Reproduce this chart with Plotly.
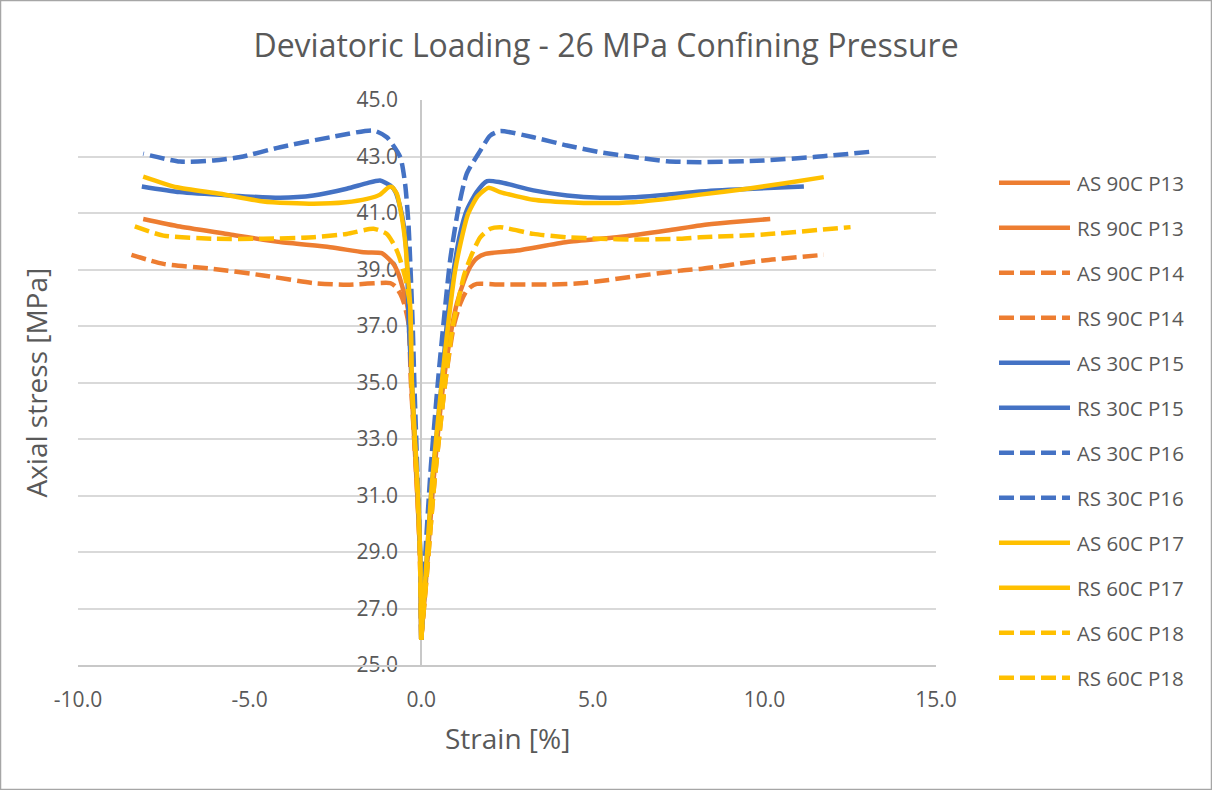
import plotly.graph_objects as go

# ---------------- data ----------------
series_names = ["AS 90C P13", "RS 90C P13", "AS 90C P14", "RS 90C P14",
                "AS 30C P15", "RS 30C P15", "AS 30C P16", "RS 30C P16",
                "AS 60C P17", "RS 60C P17", "AS 60C P18", "RS 60C P18"]

as_90c_p13_x = [0, 0.14, 0.35, 0.65, 0.9, 1.04, 1.25, 1.43, 1.62, 1.87, 2.79, 4.25, 5.7, 7.16, 8.13, 9.01, 10.17]
as_90c_p13_y = [25.9, 28.0, 31.4, 35.0, 37.0, 37.8, 38.6, 39.1, 39.4, 39.55, 39.67, 39.97, 40.14, 40.38, 40.56, 40.67, 40.79]

rs_90c_p13_x = [0, -0.04, -0.13, -0.29, -0.32, -0.42, -0.52, -0.65, -0.81, -1.15, -1.68, -2.65, -4.11, -5.57, -7.03, -8.1]
rs_90c_p13_y = [25.9, 29.0, 31.4, 35.0, 37.08, 37.8, 38.26, 38.8, 39.2, 39.58, 39.61, 39.79, 39.97, 40.24, 40.52, 40.79]

as_90c_p14_x = [0, 0.15, 0.38, 0.7, 0.95, 1.14, 1.3, 1.43, 1.62, 2.3, 3.76, 4.73, 6.19, 7.55, 8.13, 9.98, 11.73]
as_90c_p14_y = [25.9, 28.0, 31.4, 35.0, 37.0, 37.8, 38.2, 38.37, 38.49, 38.47, 38.47, 38.52, 38.75, 38.96, 39.02, 39.32, 39.52]

rs_90c_p14_x = [0, -0.04, -0.13, -0.3, -0.37, -0.5, -0.61, -0.75, -0.9, -2.17, -3.14, -4.6, -6.05, -7.51, -8.53]
rs_90c_p14_y = [25.9, 29.0, 31.4, 35.0, 37.08, 37.8, 38.14, 38.4, 38.52, 38.46, 38.52, 38.79, 39.02, 39.2, 39.55]

as_30c_p15_x = [0, 0.12, 0.31, 0.6, 0.75, 0.95, 1.14, 1.33, 1.62, 1.92, 2.3, 3.27, 4.25, 5.22, 6.19, 7.16, 8.13, 9.5, 11.15]
as_30c_p15_y = [25.9, 28.0, 31.4, 35.0, 37.1, 39.0, 40.3, 41.1, 41.75, 42.13, 42.09, 41.8, 41.62, 41.54, 41.56, 41.65, 41.76, 41.85, 41.94]

rs_30c_p15_x = [0, -0.03, -0.11, -0.27, -0.36, -0.42, -0.5, -0.61, -0.75, -0.9, -1.2, -1.6, -2.17, -3.14, -4.11, -5.57, -7.03, -8.14]
rs_30c_p15_y = [25.9, 29.0, 31.4, 35.0, 37.0, 39.44, 40.5, 41.2, 41.75, 41.97, 42.15, 42.05, 41.86, 41.62, 41.54, 41.62, 41.74, 41.94]

as_30c_p16_x = [0, 0.1, 0.28, 0.5, 0.65, 0.85, 1.09, 1.33, 1.72, 2.01, 2.3, 3.27, 4.25, 5.22, 6.19, 7.16, 8.13, 9.98, 11.44, 13.19]
as_30c_p16_y = [25.9, 28.5, 32.0, 35.2, 37.1, 39.4, 41.2, 42.4, 43.2, 43.74, 43.9, 43.68, 43.39, 43.15, 42.98, 42.83, 42.8, 42.86, 42.98, 43.18]

rs_30c_p16_x = [0, -0.03, -0.1, -0.2, -0.25, -0.37, -0.47, -0.61, -1.0, -1.39, -2.65, -4.11, -5.27, -6.05, -7.03, -8.1]
rs_30c_p16_y = [25.9, 29.0, 31.4, 35.0, 37.1, 40.6, 42.04, 42.98, 43.68, 43.92, 43.68, 43.33, 42.98, 42.86, 42.82, 43.1]

as_60c_p17_x = [0, 0.12, 0.31, 0.6, 0.78, 0.98, 1.16, 1.36, 1.65, 1.96, 2.3, 3.27, 4.25, 5.22, 6.19, 7.16, 8.13, 9.5, 10.6, 11.73]
as_60c_p17_y = [25.9, 28.0, 31.4, 35.0, 37.0, 38.9, 40.0, 40.95, 41.6, 41.89, 41.74, 41.47, 41.38, 41.35, 41.38, 41.5, 41.65, 41.86, 42.05, 42.27]

rs_60c_p17_x = [0, -0.03, -0.11, -0.27, -0.32, -0.4, -0.47, -0.6, -0.71, -0.85, -0.95, -1.2, -1.58, -2.2, -3.14, -4.6, -5.86, -7.12, -8.1]
rs_60c_p17_y = [25.9, 29.0, 31.4, 35.0, 37.67, 39.0, 40.03, 41.1, 41.68, 41.92, 41.91, 41.65, 41.5, 41.38, 41.33, 41.41, 41.68, 41.91, 42.29]

as_60c_p18_x = [0, 0.15, 0.38, 0.7, 0.92, 1.04, 1.25, 1.48, 1.72, 2.01, 2.3, 3.27, 4.25, 5.22, 6.19, 7.55, 8.13, 9.98, 12.51]
as_60c_p18_y = [25.9, 28.0, 31.4, 35.0, 37.0, 37.67, 38.8, 39.55, 40.14, 40.44, 40.5, 40.26, 40.14, 40.09, 40.06, 40.09, 40.14, 40.24, 40.5]

rs_60c_p18_x = [0, -0.04, -0.12, -0.28, -0.32, -0.47, -0.6, -0.71, -0.85, -1.0, -1.39, -2.17, -3.14, -4.6, -6.05, -7.51, -8.43]
rs_60c_p18_y = [25.9, 29.0, 31.4, 35.0, 37.67, 38.73, 39.3, 39.67, 40.0, 40.26, 40.44, 40.26, 40.14, 40.09, 40.09, 40.2, 40.56]

x_tick_vals = [-10, -5, 0, 5, 10, 15]
x_tick_text = ["-10.0", "-5.0", "0.0", "5.0", "10.0", "15.0"]
y_tick_vals = [25, 27, 29, 31, 33, 35, 37, 39, 41, 43, 45]
y_tick_text = ["25.0", "27.0", "29.0", "31.0", "33.0", "35.0", "37.0", "39.0", "41.0", "43.0", "45.0"]

# ---------------- styles ----------------
ORANGE = "#ED7D31"
BLUE = "#4472C4"
YELLOW = "#FFC000"
DASH = "15px,6px"
LW = 4.5
FONT = "Open Sans"
TXT = "#595959"

xs = [as_90c_p13_x, rs_90c_p13_x, as_90c_p14_x, rs_90c_p14_x,
      as_30c_p15_x, rs_30c_p15_x, as_30c_p16_x, rs_30c_p16_x,
      as_60c_p17_x, rs_60c_p17_x, as_60c_p18_x, rs_60c_p18_x]
ys = [as_90c_p13_y, rs_90c_p13_y, as_90c_p14_y, rs_90c_p14_y,
      as_30c_p15_y, rs_30c_p15_y, as_30c_p16_y, rs_30c_p16_y,
      as_60c_p17_y, rs_60c_p17_y, as_60c_p18_y, rs_60c_p18_y]
colors = [ORANGE, ORANGE, ORANGE, ORANGE, BLUE, BLUE, BLUE, BLUE, YELLOW, YELLOW, YELLOW, YELLOW]
dashes = ["solid", "solid", DASH, DASH, "solid", "solid", DASH, DASH, "solid", "solid", DASH, DASH]

fig = go.Figure()
for name, x, y, c, d in zip(series_names, xs, ys, colors, dashes):
    fig.add_trace(go.Scatter(x=x, y=y, name=name, mode="lines",
                             line=dict(color=c, width=LW, dash=d, shape="spline", smoothing=0.6),
                             showlegend=False))

# geometry (pixels)
W, H = 1212, 790
L, R, T, B = 78, 276, 100, 125
pw, ph = W - L - R, H - T - B

def px_to_paper_x(px):
    return (px - L) / pw

def py_to_paper_y(py):
    return (H - B - py) / ph

shapes = []
annotations = []

# custom legend
for i, (name, c, d) in enumerate(zip(series_names, colors, dashes)):
    yy = py_to_paper_y(182.7 + 45 * i)
    shapes.append(dict(type="line", xref="paper", yref="paper",
                       x0=px_to_paper_x(999), x1=px_to_paper_x(1070), y0=yy, y1=yy,
                       line=dict(color=c, width=LW, dash=d)))
    annotations.append(dict(text=name, xref="paper", yref="paper", x=px_to_paper_x(1075), y=yy,
                            xanchor="left", yanchor="middle", showarrow=False,
                            font=dict(family=FONT, size=20.5, color=TXT)))

# outer border
shapes.append(dict(type="rect", xref="paper", yref="paper",
                   x0=px_to_paper_x(0.5), x1=px_to_paper_x(W - 0.5),
                   y0=py_to_paper_y(H - 0.5), y1=py_to_paper_y(0.5),
                   line=dict(color="#A6A6A6", width=1.5), layer="above"))

# axis titles
annotations.append(dict(text="Strain [%]", xref="paper", yref="paper", x=0.5, y=py_to_paper_y(738),
                        xanchor="center", yanchor="middle", showarrow=False,
                        font=dict(family=FONT, size=28, color=TXT)))
annotations.append(dict(text="Axial stress [MPa]", xref="paper", yref="paper", x=px_to_paper_x(35), y=0.5,
                        xanchor="center", yanchor="middle", showarrow=False, textangle=-90,
                        font=dict(family=FONT, size=28, color=TXT)))

fig.update_layout(
    width=W, height=H,
    margin=dict(l=L, r=R, t=T, b=B),
    paper_bgcolor="white", plot_bgcolor="white",
    title=dict(text="Deviatoric Loading - 26 MPa Confining Pressure",
               x=0.5, xanchor="center", xref="container",
               y=1 - 46 / H, yanchor="middle", yref="container",
               font=dict(family=FONT, size=32, color=TXT)),
    showlegend=False,
    shapes=shapes,
    annotations=annotations,
    xaxis=dict(range=[-10, 15], tickvals=x_tick_vals, ticktext=x_tick_text,
               showgrid=False, zeroline=False, showline=True, linecolor="#C8C8C8", linewidth=1.5,
               ticks="outside", ticklen=15, tickcolor="rgba(0,0,0,0)",
               tickfont=dict(family=FONT, size=21, color=TXT), domain=[0, 1]),
    yaxis=dict(range=[25, 45], tickvals=y_tick_vals, ticktext=y_tick_text,
               showgrid=True, gridcolor="#D9D9D9", gridwidth=1.5, zeroline=False,
               showline=True, linecolor="#C8C8C8", linewidth=2,
               anchor="free", position=0.4, layer="below traces",
               ticks="outside", ticklen=18, tickcolor="rgba(0,0,0,0)",
               tickfont=dict(family=FONT, size=21, color=TXT)),
)

fig.write_html("out.html")
